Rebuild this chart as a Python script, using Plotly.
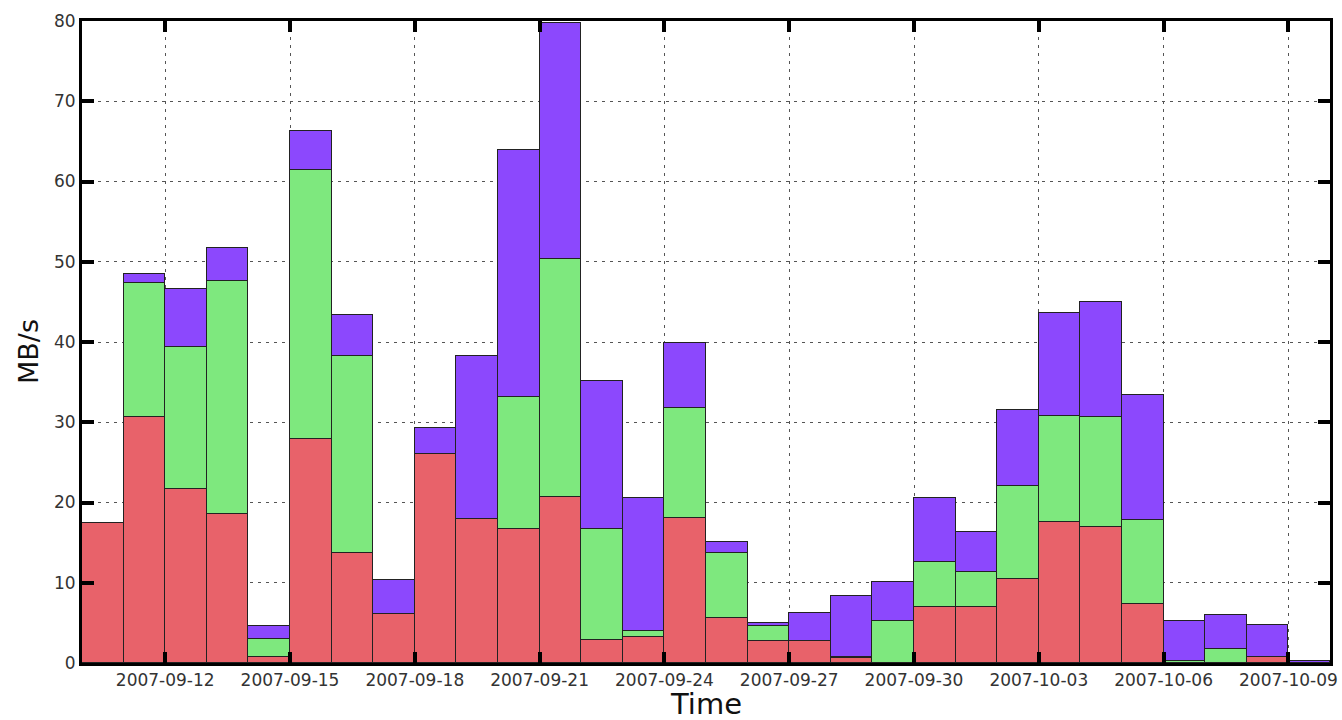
import plotly.graph_objects as go
import pandas as pd

days = pd.date_range("2007-09-10", "2007-10-09", freq="D").strftime("%Y-%m-%d").tolist()

red = [17.4, 30.6, 21.7, 18.6, 0.7, 27.9, 13.7, 6.1, 26.0, 17.9,
       16.7, 20.7, 2.9, 3.2, 18.1, 5.6, 2.7, 2.7, 0.6, 0.0,
       7.0, 7.0, 10.5, 17.6, 17.0, 7.35, 0.0, 0.0, 0.8, 0.0]
green = [0.0, 16.7, 17.7, 29.0, 2.3, 33.5, 24.6, 0.0, 0.0, 0.0,
         16.5, 29.6, 13.8, 0.8, 13.7, 8.1, 1.9, 0.0, 0.1, 5.2,
         5.6, 4.4, 11.6, 13.2, 13.6, 10.5, 0.3, 1.8, 0.0, 0.0]
purple = [0.0, 1.2, 7.2, 4.1, 1.6, 4.9, 5.1, 4.2, 3.3, 20.4,
          30.7, 29.5, 18.4, 16.6, 8.1, 1.4, 0.4, 3.5, 7.6, 4.9,
          8.0, 4.9, 9.4, 12.8, 14.4, 15.5, 4.9, 4.2, 3.9, 0.3]

tick_dates = ["2007-09-12", "2007-09-15", "2007-09-18", "2007-09-21", "2007-09-24",
              "2007-09-27", "2007-09-30", "2007-10-03", "2007-10-06", "2007-10-09"]

colors = ["#e8626a", "#7ee87e", "#8c48fd"]
DAY = 86400000

fig = go.Figure()
for vals, col, name in zip([red, green, purple], colors, ["A", "B", "C"]):
    fig.add_trace(go.Bar(
        x=days, y=vals, name=name, offset=0, width=DAY,
        marker=dict(color=col, line=dict(color="#222222", width=1.5)),
        showlegend=False,
    ))

fig.update_layout(
    barmode="stack", bargap=0,
    width=1342, height=720,
    margin=dict(l=82, r=12, t=21, b=57, autoexpand=False),
    paper_bgcolor="white", plot_bgcolor="white",
    font=dict(family="DejaVu Sans", color="#333333"),
    annotations=[
        dict(text="Time", xref="paper", yref="paper", x=0.5, y=-0.0645,
             xanchor="center", yanchor="middle", showarrow=False,
             font=dict(size=29, color="#111111")),
        dict(text="MB/s", xref="paper", yref="paper", x=-0.0425, y=0.486,
             xanchor="center", yanchor="middle", showarrow=False, textangle=-90,
             font=dict(size=27, color="#111111")),
    ],
)
fig.update_xaxes(
    type="date", automargin=False,
    range=["2007-09-10", "2007-10-10"],
    tickvals=tick_dates, ticktext=tick_dates,
    tickfont=dict(size=17, color="#333333"),
    ticks="inside", ticklen=11, tickwidth=3.5, tickcolor="black",
    showline=True, linecolor="black", linewidth=3, mirror="ticks",
    showgrid=True, gridcolor="#555555", gridwidth=1.2, griddash="3px,5px",
    zeroline=False,
)
fig.update_yaxes(
    range=[0, 80], dtick=10, tick0=0, automargin=False,
    tickfont=dict(size=17, color="#333333"),
    ticks="inside", ticklen=12, tickwidth=3.5, tickcolor="black",
    showline=True, linecolor="black", linewidth=3, mirror="ticks",
    showgrid=True, gridcolor="#555555", gridwidth=1.2, griddash="3px,5px",
    zeroline=False,
)

fig.write_html("out.html", config={"displayModeBar": False},
               post_script="document.body.style.margin='0';document.body.style.overflow='hidden';")
